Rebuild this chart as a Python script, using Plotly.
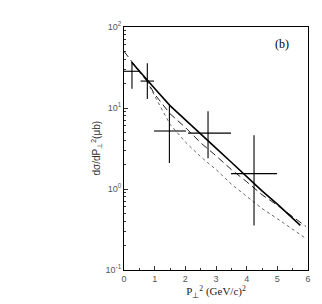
import plotly.graph_objects as go

# Data points (P_perp^2, dsigma/dP^2) with asymmetric errors
pt_x = [0.26, 0.76, 1.48, 2.74, 4.24]
pt_xlo = [0.26, 0.22, 0.50, 0.65, 0.75]
pt_xhi = [0.26, 0.22, 0.54, 0.75, 0.75]
pt_y = [28.4, 21.5, 5.2, 4.9, 1.55]
pt_yhi = [36.8, 35.8, 10.7, 9.1, 4.6]
pt_ylo = [17.3, 12.9, 2.1, 2.4, 0.355]

# Model curves
solid_x = [0.25, 0.75, 1.0, 1.5, 2.0, 2.5, 3.0, 3.5, 4.0, 4.5, 5.0, 5.5, 5.75]
solid_y = [36.8, 21.9, 17.4, 10.7, 7.1, 4.8, 3.2, 2.14, 1.41, 0.95, 0.65, 0.43, 0.355]

dash_x = [0.0, 0.25, 0.5, 0.75, 1.0, 1.5, 2.0, 2.5, 3.0, 3.5, 4.0, 4.5, 5.0, 5.5, 5.93]
dash_y = [50.0, 38.0, 28.2, 21.4, 14.8, 8.5, 5.75, 3.72, 2.57, 1.74, 1.23, 0.85, 0.63, 0.46, 0.345]

dot_x = [0.25, 0.5, 0.75, 1.0, 1.5, 2.0, 2.5, 3.0, 3.5, 4.0, 4.5, 5.0, 5.5, 5.93]
dot_y = [36.3, 28.2, 21.4, 14.1, 6.3, 3.8, 2.5, 1.74, 1.15, 0.81, 0.575, 0.43, 0.316, 0.245]

# Tick labels
y_tickvals = [0.1, 1, 10, 100]
y_ticktext = ["10<sup>-1</sup>", "10<sup>0</sup>", "10<sup>1</sup>", "10<sup>2</sup>"]
x_tickvals = [0, 1, 2, 3, 4, 5, 6]
x_ticktext = ["0", "1", "2", "3", "4", "5", "6"]

fig = go.Figure()

fig.add_trace(go.Scatter(x=dot_x, y=dot_y, mode="lines",
                         line=dict(color="#666", width=1, dash="dot"), showlegend=False))
fig.add_trace(go.Scatter(x=dash_x, y=dash_y, mode="lines",
                         line=dict(color="#222", width=1, dash="7px,4px"), showlegend=False))
fig.add_trace(go.Scatter(x=solid_x, y=solid_y, mode="lines",
                         line=dict(color="black", width=1.6), showlegend=False))

yerr_plus = [h - y for h, y in zip(pt_yhi, pt_y)]
yerr_minus = [y - l for l, y in zip(pt_ylo, pt_y)]
fig.add_trace(go.Scatter(
    x=pt_x, y=pt_y, mode="markers",
    marker=dict(size=1, color="black"),
    error_x=dict(type="data", symmetric=False, array=pt_xhi, arrayminus=pt_xlo,
                 color="black", thickness=1.1, width=0),
    error_y=dict(type="data", symmetric=False, array=yerr_plus, arrayminus=yerr_minus,
                 color="black", thickness=1.1, width=0),
    showlegend=False))

fig.add_annotation(x=5.15, y=1.79, xref="x", yref="y", text="(b)", showarrow=False,
                   font=dict(family="Liberation Serif", size=12, color="black"))

fig.add_annotation(x=-0.152, y=0.5, xref="paper", yref="paper",
                   text="dσ/dP<sub>⊥</sub><sup>2</sup>(μb)", textangle=-90,
                   showarrow=False, xanchor="center", yanchor="middle",
                   font=dict(family="Liberation Sans", size=10, color="#333"))

fig.update_layout(
    width=322, height=304,
    margin=dict(l=116, r=22, t=15, b=42),
    paper_bgcolor="white", plot_bgcolor="white",
    xaxis=dict(range=[0, 6], tickmode="array", tickvals=x_tickvals, ticktext=x_ticktext,
               ticks="inside", ticklen=4, tickcolor="#333",
               minor=dict(ticks="inside", ticklen=2, dtick=0.5, tickcolor="#333"),
               showgrid=False, zeroline=False,
               showline=True, linecolor="black", linewidth=1, mirror=True,
               tickfont=dict(family="Liberation Sans", size=9, color="#555"),
               title=dict(text="P<sub>⊥</sub><sup>2</sup> (GeV/c)<sup>2</sup>",
                          font=dict(family="Liberation Serif", size=11, color="#222"),
                          standoff=4)),
    yaxis=dict(type="log", range=[-1, 2], tickmode="array",
               tickvals=y_tickvals, ticktext=y_ticktext,
               ticks="inside", ticklen=4, tickcolor="#333",
               minor=dict(ticks="inside", ticklen=2, dtick="D1", tickcolor="#333"),
               showgrid=False, zeroline=False,
               showline=True, linecolor="black", linewidth=1, mirror=True,
               tickfont=dict(family="Liberation Sans", size=9, color="#555")),
)

fig.write_html("out.html")
